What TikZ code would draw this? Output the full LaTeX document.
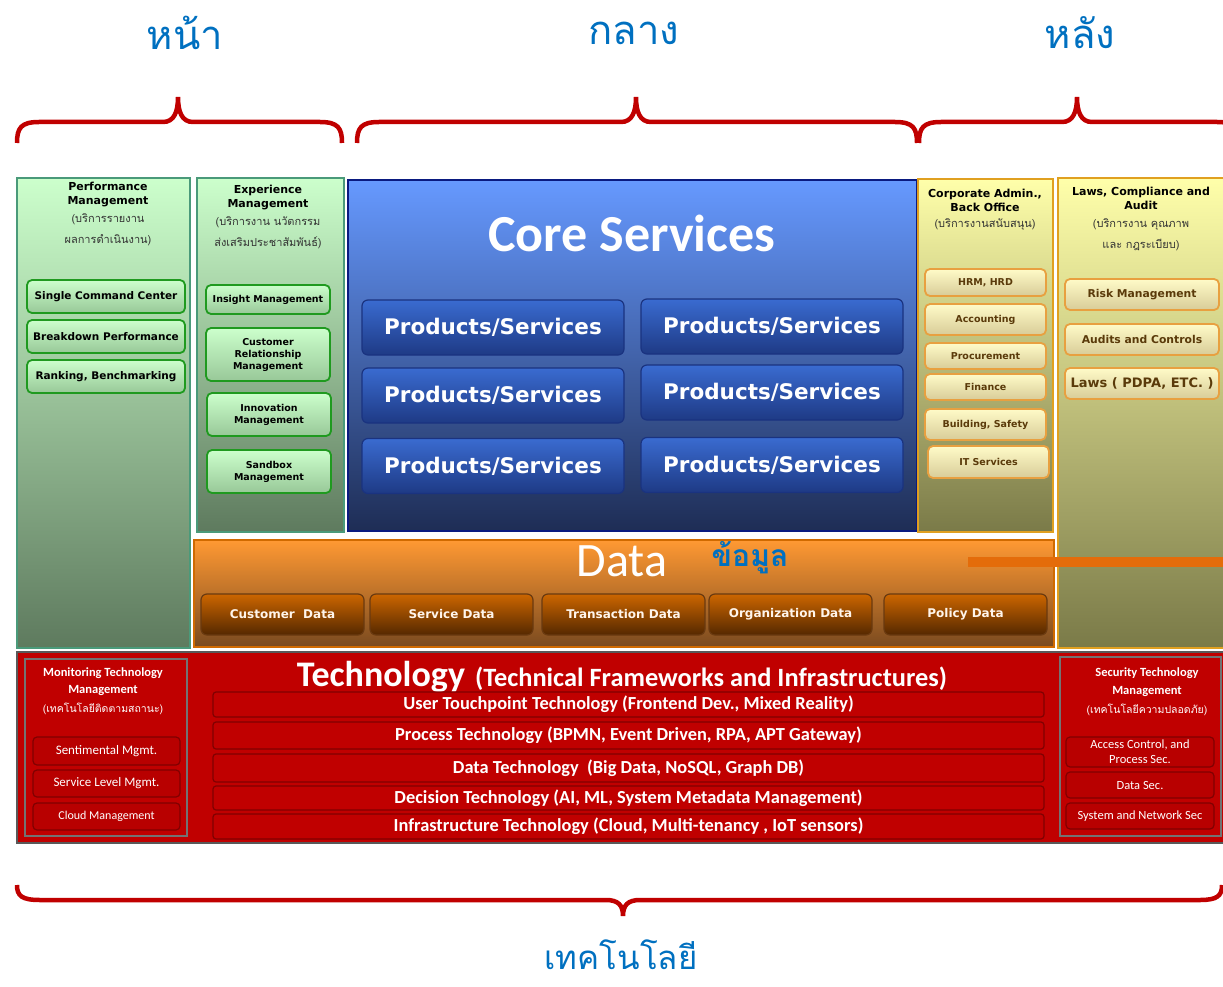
\documentclass[tikz,border=0pt]{standalone}
\usepackage{fontspec}
\setmainfont{DejaVu Sans}
\newfontfamily\carl{Carlito}
\newfontfamily\thai[Script=Thai]{Loma}
\usetikzlibrary{positioning}

\definecolor{thblue}{HTML}{0070C0}
\definecolor{bracered}{HTML}{C00000}
\definecolor{techred}{HTML}{C00000}
\definecolor{subred}{HTML}{B80000}
\definecolor{colgreen}{HTML}{4A9A7A}
\definecolor{greentop}{HTML}{CCFFCC}
\definecolor{greenbot}{HTML}{5E7A5E}
\definecolor{boxgreen}{HTML}{1F9A1F}
\definecolor{gboxbot}{HTML}{98C898}
\definecolor{navy}{HTML}{0A1A80}
\definecolor{coretop}{HTML}{6699FF}
\definecolor{corebot}{HTML}{1E2D55}
\definecolor{pstop}{HTML}{3A6BD0}
\definecolor{psbot}{HTML}{1E3A85}
\definecolor{psblue}{HTML}{1A3380}
\definecolor{gold}{HTML}{E0A020}
\definecolor{yellowtop}{HTML}{FFFFAA}
\definecolor{yellowbot}{HTML}{7A7A48}
\definecolor{yboxtop}{HTML}{FFFBC8}
\definecolor{yboxbot}{HTML}{D8CC98}
\definecolor{boxgold}{HTML}{E8A040}
\definecolor{brownTxt}{HTML}{5A3A0A}
\definecolor{dataorange}{HTML}{D06A00}
\definecolor{datatop}{HTML}{FF9933}
\definecolor{databot}{HTML}{7A4A1F}
\definecolor{dboxtop}{HTML}{CC6600}
\definecolor{dboxbot}{HTML}{552800}
\definecolor{databrown}{HTML}{6A3A10}
\definecolor{barorange}{HTML}{E46C0A}

\begin{document}
\begin{tikzpicture}[
  x=1pt, y=-1pt,
  col/.style={draw, rectangle, line width=1.5pt, inner sep=0pt},
  greencol/.style={col, draw=colgreen, top color=greentop, bottom color=greenbot},
  yellowcol/.style={col, draw=gold, top color=yellowtop, bottom color=yellowbot},
  gbox/.style={draw=boxgreen, line width=1.8pt, rounded corners=5pt, top color=greentop, bottom color=gboxbot, align=center, inner sep=1pt, font=\bfseries\fontsize{10.5}{13}\selectfont, text=black},
  ybox/.style={draw=boxgold, line width=1.8pt, rounded corners=5pt, top color=yboxtop, bottom color=yboxbot, align=center, inner sep=1pt, font=\bfseries\fontsize{9.5}{12}\selectfont, text=brownTxt},
  psbox/.style={draw=psblue, line width=1.2pt, rounded corners=6pt, top color=pstop, bottom color=psbot, minimum width=262pt, minimum height=55pt, font=\bfseries\fontsize{21.5}{24}\selectfont, text=white},
  dbox/.style={draw=databrown, line width=1.2pt, rounded corners=6pt, top color=dboxtop, bottom color=dboxbot, minimum width=163pt, minimum height=41pt, font=\bfseries\fontsize{12}{14}\selectfont, text=white!92!orange},
  trow/.style={draw=red!50!black, line width=1.2pt, rounded corners=3pt, fill=techred, minimum width=831pt, font=\carl\bfseries\fontsize{18.4}{20}\selectfont, text=white},
  rbox/.style={draw=red!50!black, line width=1.2pt, rounded corners=4pt, fill=subred, align=center, font=\carl\fontsize{13}{15}\selectfont, text=white, inner sep=0pt},
  head/.style={align=center, font=\bfseries\fontsize{11}{14}\selectfont},
  thaisub/.style={align=center, font=\thai\fontsize{11}{21}\selectfont, text=black!80},
  toplbl/.style={font=\thai\fontsize{40}{40}\selectfont, text=thblue},
  brace/.style={draw=bracered, line width=4.5pt}
]
\useasboundingbox (0,0) rectangle (1223,987);
\clip (0,0) rectangle (1223,987);

% ===== top labels and braces =====
\node[toplbl] (front) at (185,33) {หน้า};
\node[toplbl] (middle) at (634,33) {กลาง};
\node[toplbl] (back) at (1080,33) {หลัง};

\foreach \a/\m/\b in {17/178/342, 357/636/917, 919/1077/1239}
  \draw[brace] (\a,143) .. controls (\a,128) and (\a+4,122) .. (\a+22,122)
    -- (\m-15,122) .. controls (\m-4,122) and (\m,112) .. (\m,97)
    .. controls (\m,112) and (\m+4,122) .. (\m+15,122)
    -- (\b-22,122) .. controls (\b-4,122) and (\b,128) .. (\b,143);

% ===== front columns =====
\node[greencol, minimum width=173pt, minimum height=470pt] (perf) at (103.5,413) {};
\node[head] (perfT) at (108,195) {Performance\\Management};
\node[thaisub] (perfS) at (108,230) {(บริการรายงาน\\ผลการดำเนินงาน)};
\node[gbox, minimum width=158pt, minimum height=33pt] (scc) at (106,296.5) {Single Command Center};
\node[gbox, minimum width=158pt, minimum height=33pt] (bdp) at (106,336.5) {Breakdown Performance};
\node[gbox, minimum width=158pt, minimum height=33pt] (rbm) at (106,376.5) {Ranking, Benchmarking};

\node[greencol, minimum width=147pt, minimum height=354pt] (exper) at (270.5,355) {};
\node[head] (experT) at (268,198) {Experience\\Management};
\node[thaisub] (experS) at (268,233) {(บริการงาน นวัตกรรม\\ส่งเสริมประชาสัมพันธ์)};
\node[gbox, minimum width=124pt, minimum height=29pt, font=\bfseries\fontsize{9.5}{12}\selectfont] (ins) at (268,299.5) {Insight Management};
\node[gbox, minimum width=124pt, minimum height=53pt, font=\bfseries\fontsize{9.5}{12}\selectfont] (crm) at (268,354.5) {Customer\\Relationship\\Management};
\node[gbox, minimum width=124pt, minimum height=43pt, font=\bfseries\fontsize{9.5}{12}\selectfont] (inno) at (269,414.5) {Innovation\\Management};
\node[gbox, minimum width=124pt, minimum height=43pt, font=\bfseries\fontsize{9.5}{12}\selectfont] (sbx) at (269,471.5) {Sandbox\\Management};

% ===== core services =====
\node[col, draw=navy, top color=coretop, bottom color=corebot, minimum width=569pt, minimum height=351pt] (core) at (632.5,355.5) {};
\node[font=\carl\bfseries\fontsize{52}{52}\selectfont, text=white] (coreT) at (632,233) {Core Services};
\foreach \n/\x/\y in {1/493/327.5, 2/772/326.5, 3/493/395.5, 4/772/392.5, 5/493/466, 6/772/465}
  \node[psbox] (ps\n) at (\x,\y) {Products/Services};

% ===== back columns =====
\node[yellowcol, minimum width=135pt, minimum height=353pt] (corp) at (985.5,355.5) {};
\node[head] (corpT) at (985,200) {Corporate Admin.,\\Back Office};
\node[thaisub] (corpS) at (985,225) {(บริการงานสนับสนุน)};
\node[ybox, minimum width=121pt, minimum height=27pt] (hrm) at (985.5,282.5) {HRM, HRD};
\node[ybox, minimum width=121pt, minimum height=31pt] (acc) at (985.5,319.5) {Accounting};
\node[ybox, minimum width=121pt, minimum height=26pt] (proc) at (985.5,356) {Procurement};
\node[ybox, minimum width=121pt, minimum height=26pt] (fin) at (985.5,387) {Finance};
\node[ybox, minimum width=121pt, minimum height=31pt] (bld) at (985.5,424.5) {Building, Safety};
\node[ybox, minimum width=121pt, minimum height=32pt] (its) at (988.5,462) {IT Services};

\node[yellowcol, minimum width=168pt, minimum height=470pt] (laws) at (1142,413) {};
\node[head] (lawsT) at (1141,198.5) {Laws, Compliance and\\Audit};
\node[thaisub] (lawsS) at (1141,235) {(บริการงาน คุณภาพ\\และ กฎระเบียบ)};
\node[ybox, minimum width=154pt, minimum height=31pt, font=\bfseries\fontsize{10.8}{13}\selectfont] (risk) at (1142,294.5) {Risk Management};
\node[ybox, minimum width=154pt, minimum height=31pt, font=\bfseries\fontsize{10.8}{13}\selectfont] (aud) at (1142,339.5) {Audits and Controls};
\node[ybox, minimum width=154pt, minimum height=31pt, font=\bfseries\fontsize{13}{15}\selectfont] (pdpa) at (1142,383.5) {Laws ( PDPA, ETC. )};

% ===== data =====
\node[col, draw=dataorange, top color=datatop, bottom color=databot, minimum width=860pt, minimum height=107pt] (data) at (624,593.5) {};
\node[font=\carl\fontsize{48}{48}\selectfont, text=white] (dataT) at (622,561) {Data};
\node[font=\thai\bfseries\fontsize{30}{30}\selectfont, text=thblue] (dataS) at (750,558) {ข้อมูล};
\draw[barorange, line width=10pt] (968,562) -- (1230,562);
\node[dbox] (cdat) at (282.5,614.5) {Customer\ \ Data};
\node[dbox] (sdat) at (451.5,614.5) {Service Data};
\node[dbox] (tdat) at (623.5,614.5) {Transaction Data};
\node[dbox] (odat) at (790.5,614.5) {Organization Data};
\node[dbox] (pdat) at (965.5,614.5) {Policy Data};

% ===== technology =====
\node[col, draw=black!65, fill=techred, minimum width=1209pt, minimum height=191pt] (tech) at (621.5,747.5) {};
\node[text=white, font=\carl\bfseries] (techT) at (622,677) {{\fontsize{36}{36}\selectfont Technology}\hspace{10pt}{\fontsize{26.4}{26}\selectfont (Technical Frameworks and Infrastructures)}};
\node[trow, minimum height=25pt] (t1) at (628.5,704.5) {User Touchpoint Technology (Frontend Dev., Mixed Reality)};
\node[trow, minimum height=27pt] (t2) at (628.5,735.5) {Process Technology (BPMN, Event Driven, RPA, APT Gateway)};
\node[trow, minimum height=28pt] (t3) at (628.5,768) {Data Technology\ \ (Big Data, NoSQL, Graph DB)};
\node[trow, minimum height=24pt] (t4) at (628.5,798) {Decision Technology (AI, ML, System Metadata Management)};
\node[trow, minimum height=25pt] (t5) at (628.5,826.5) {Infrastructure Technology (Cloud, Multi-tenancy , IoT sensors)};

\node[draw=black!55, line width=1.5pt, minimum width=162pt, minimum height=177pt] (mon) at (106,747.5) {};
\node[head, text=white, font=\carl\bfseries\fontsize{12.5}{17}\selectfont] (monT) at (103,681.5) {Monitoring Technology\\Management};
\node[thaisub, text=white, font=\thai\fontsize{10.5}{12}\selectfont] (monS) at (103,709) {(เทคโนโลยีติดตามสถานะ)};
\node[rbox, minimum width=147pt, minimum height=28pt] (sent) at (106.5,751) {Sentimental Mgmt.};
\node[rbox, minimum width=147pt, minimum height=27pt] (slm) at (106.5,783.5) {Service Level Mgmt.};
\node[rbox, minimum width=147pt, minimum height=27pt, font=\carl\fontsize{12}{14}\selectfont] (cldm) at (106.5,816.5) {Cloud Management};

\node[draw=black!55, line width=1.5pt, minimum width=161pt, minimum height=179pt] (sec) at (1140.5,746.5) {};
\node[head, text=white, font=\carl\bfseries\fontsize{12.5}{18}\selectfont] (secT) at (1147,682.5) {Security Technology\\Management};
\node[thaisub, text=white, font=\thai\fontsize{10.5}{12}\selectfont] (secS) at (1147,710) {(เทคโนโลยีความปลอดภัย)};
\node[rbox, minimum width=148pt, minimum height=30pt, font=\carl\fontsize{12.5}{15}\selectfont] (acs) at (1140,752) {Access Control, and\\Process Sec.};
\node[rbox, minimum width=148pt, minimum height=26pt, font=\carl\fontsize{12.5}{15}\selectfont] (dsec) at (1140,785) {Data Sec.};
\node[rbox, minimum width=148pt, minimum height=26pt, font=\carl\fontsize{12.5}{15}\selectfont] (nsec) at (1140,816) {System and Network Sec};

% ===== bottom brace =====
\draw[brace] (17,885) .. controls (17,896) and (22,900) .. (40,900) -- (606,900)
  .. controls (618,900) and (623,905) .. (623,916)
  .. controls (623,905) and (628,900) .. (640,900) -- (1200,900)
  .. controls (1217,900) and (1222,896) .. (1222,885);
\node[toplbl, inner sep=0pt, font=\thai\fontsize{33}{33}\selectfont] (techL) at (621,955) {เทคโนโลยี};

\end{tikzpicture}
\end{document}
